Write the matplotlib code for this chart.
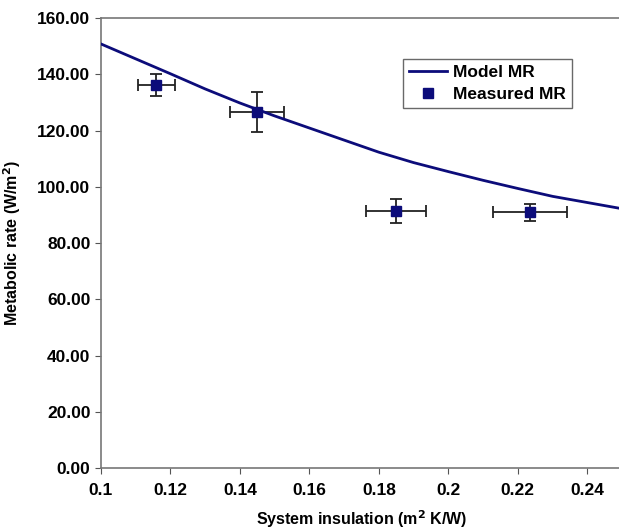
import matplotlib
matplotlib.use('Agg')
import matplotlib.pyplot as plt

plt.rcParams['font.family'] = ['Liberation Sans', 'DejaVu Sans']
plt.rcParams['font.weight'] = 'bold'

# model curve
model_x = [0.10, 0.11, 0.12, 0.13, 0.14, 0.15, 0.16, 0.17, 0.18, 0.19,
           0.20, 0.21, 0.22, 0.23, 0.24, 0.25]
model_y = [150.8, 145.5, 140.2, 134.8, 129.8, 125.2, 120.9, 116.6, 112.3, 108.6,
           105.4, 102.3, 99.4, 96.6, 94.4, 92.2]

# measured points with error bars
meas_x = [0.116, 0.145, 0.185, 0.2235]
meas_y = [136.2, 126.6, 91.4, 91.0]
meas_xerr = [0.0053, 0.0078, 0.0086, 0.0106]
meas_yerr = [3.9, 7.1, 4.4, 3.0]

xticks = [0.1, 0.12, 0.14, 0.16, 0.18, 0.2, 0.22, 0.24]
xtick_labels = ['0.1', '0.12', '0.14', '0.16', '0.18', '0.2', '0.22', '0.24']
yticks = [0, 20, 40, 60, 80, 100, 120, 140, 160]

navy = '#0c0c7a'

fig = plt.figure(figsize=(6.19, 5.31), dpi=100)
ax = fig.add_axes([0.163, 0.1186, 0.842, 0.8474])

ax.plot(model_x, model_y, color=navy, lw=2, label='Model MR', zorder=3)
ax.errorbar(meas_x, meas_y, xerr=meas_xerr, yerr=meas_yerr, fmt='none',
            ecolor='#222222', elinewidth=1.3, capsize=4, capthick=1.3, zorder=2)
ax.plot(meas_x, meas_y, 's', color=navy, markersize=7, linestyle='none',
        label='Measured MR', zorder=4)

ax.set_xlim(0.1, 0.25)
ax.set_ylim(0, 160)
ax.set_xticks(xticks)
ax.set_xticklabels(xtick_labels)
ax.set_yticks(yticks)
ax.set_yticklabels(['%.2f' % v for v in yticks])
ax.tick_params(labelsize=12.5, length=4, color='#555555', direction='out')
ax.tick_params(axis='x', pad=7)

for side in ['left', 'bottom', 'top']:
    ax.spines[side].set_color('#777777')
    ax.spines[side].set_linewidth(1.2)
ax.spines['right'].set_visible(False)

ax.set_xlabel('System insulation (m$^2$ K/W)', fontsize=11.5, fontweight='bold', labelpad=7)
ax.set_ylabel('Metabolic rate (W/m$^2$)', fontsize=11.5, fontweight='bold', labelpad=10)

leg = ax.legend(loc='upper left', bbox_to_anchor=(0.58, 0.909), fontsize=12.5,
                frameon=True, fancybox=False, edgecolor='#444444',
                handlelength=2.2, handletextpad=0.3, borderpad=0.35,
                labelspacing=0.4, borderaxespad=0)
leg.get_frame().set_linewidth(1.0)

fig.savefig('out.png', dpi=100)
